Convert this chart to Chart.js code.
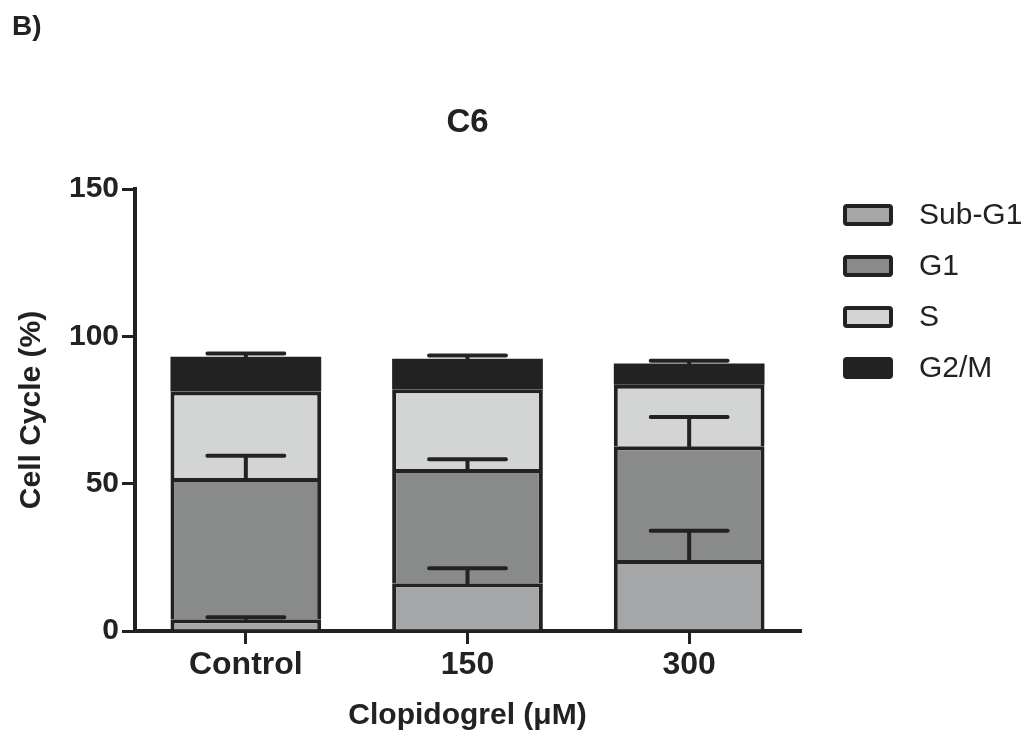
<!DOCTYPE html>
<html>
<head>
<meta charset="utf-8">
<script src="https://cdn.jsdelivr.net/npm/chart.js@4"></script>
<style>
  html, body { margin: 0; padding: 0; background: #fff; }
  #chart { display: block; }
</style>
</head>
<body>
<canvas id="chart" width="1028" height="736"></canvas>
<script>
// data
const categories = ["Control", "150", "300"];
const subG1 = [4.0, 16.2, 24.1];
const g1 = [47.9, 38.8, 38.6];
const sPhase = [29.4, 27.0, 20.9];
const g2m = [11.8, 10.4, 7.2];

const subG1Err = [0.7, 5.1, 9.9];
const g1Err = [7.6, 3.3, 9.9];
const sPhaseErr = [null, null, null];
const g2mErr = [1.1, 1.1, 0.9];

const yTicks = [0, 50, 100, 150];

const ink = "#222222";
const font = "'Liberation Sans', Arial, sans-serif";

// draw upward error bars on top of each stacked segment
const errorBars = {
    id: "errorBars",
    afterDatasetsDraw(chart) {
        const ctx = chart.ctx;
        const yScale = chart.scales.y;
        ctx.save();
        ctx.strokeStyle = ink;
        ctx.lineWidth = 4;
        ctx.lineCap = "round";
        chart.data.datasets.forEach((ds, di) => {
            const meta = chart.getDatasetMeta(di);
            meta.data.forEach((bar, i) => {
                const err = ds.errors[i];
                if (!err) return;
                let total = 0;
                for (let k = 0; k <= di; k++) total += chart.data.datasets[k].data[i];
                const y0 = yScale.getPixelForValue(total);
                const y1 = yScale.getPixelForValue(total + err);
                const half = bar.width * 0.255;
                ctx.beginPath();
                ctx.moveTo(bar.x, y0);
                ctx.lineTo(bar.x, y1);
                ctx.moveTo(bar.x - half, y1);
                ctx.lineTo(bar.x + half, y1);
                ctx.stroke();
            });
        });
        ctx.restore();
    },
};

// legend on the right, chart title and the panel label
const sideLegend = {
    id: "sideLegend",
    afterDraw(chart) {
        const ctx = chart.ctx;
        const area = chart.chartArea;
        ctx.save();
        chart.data.datasets.forEach((ds, i) => {
            const cy = 215 + i * 51;
            ctx.fillStyle = ds.backgroundColor;
            ctx.strokeStyle = ink;
            ctx.lineWidth = 4;
            ctx.beginPath();
            ctx.roundRect(845, cy - 9, 46, 18, 2);
            ctx.fill();
            ctx.stroke();
            ctx.fillStyle = ink;
            ctx.font = "30px " + font;
            ctx.textAlign = "left";
            ctx.textBaseline = "middle";
            ctx.fillText(ds.label, 919, cy + 1);
        });
        ctx.font = "bold 28px " + font;
        ctx.fillText("B)", 12, 27);
        ctx.font = "bold 33px " + font;
        ctx.textAlign = "center";
        ctx.fillText("C6", (area.left + area.right) / 2, 123);
        ctx.restore();
    },
};

const ctx = document.getElementById("chart").getContext("2d");

new Chart(ctx, {
    type: "bar",
    data: {
        labels: categories,
        datasets: [
            { label: "Sub-G1", data: subG1, errors: subG1Err, backgroundColor: "#a5a6a8" },
            { label: "G1", data: g1, errors: g1Err, backgroundColor: "#898b8a" },
            { label: "S", data: sPhase, errors: sPhaseErr, backgroundColor: "#d3d4d4" },
            { label: "G2/M", data: g2m, errors: g2mErr, backgroundColor: "#222222", borderWidth: 0 },
        ],
    },
    options: {
        responsive: false,
        animation: false,
        layout: { padding: { left: 0, right: 228, top: 189, bottom: 0 } },
        datasets: {
            bar: {
                borderColor: ink,
                borderWidth: 4,
                barPercentage: 0.68,
                categoryPercentage: 1,
            },
        },
        scales: {
            x: {
                stacked: true,
                grid: { drawOnChartArea: false, offset: false, color: ink, lineWidth: 3, tickLength: 13 },
                border: { color: ink, width: 4 },
                ticks: { color: ink, padding: 2, font: { family: font, size: 32, weight: "bold" } },
                title: {
                    display: true,
                    text: "Clopidogrel (\u03bcM)",
                    color: ink,
                    padding: { top: 0, bottom: 2 },
                    font: { family: font, size: 30, weight: "bold" },
                },
                afterFit(scale) { scale.height = 105; },
            },
            y: {
                stacked: true,
                min: 0,
                max: 150,
                afterBuildTicks(scale) { scale.ticks = yTicks.map((v) => ({ value: v })); },
                grid: { drawOnChartArea: false, color: ink, lineWidth: 3, tickLength: 13 },
                border: { color: ink, width: 4 },
                ticks: { color: ink, padding: 3, font: { family: font, size: 30, weight: "bold" } },
                title: {
                    display: true,
                    text: "Cell Cycle (%)",
                    color: ink,
                    padding: { top: 14, bottom: 0 },
                    font: { family: font, size: 30, weight: "bold" },
                },
                afterFit(scale) { scale.width = 135; },
            },
        },
        plugins: {
            legend: { display: false },
            tooltip: { enabled: false },
        },
    },
    plugins: [errorBars, sideLegend],
});
</script>
</body>
</html>
